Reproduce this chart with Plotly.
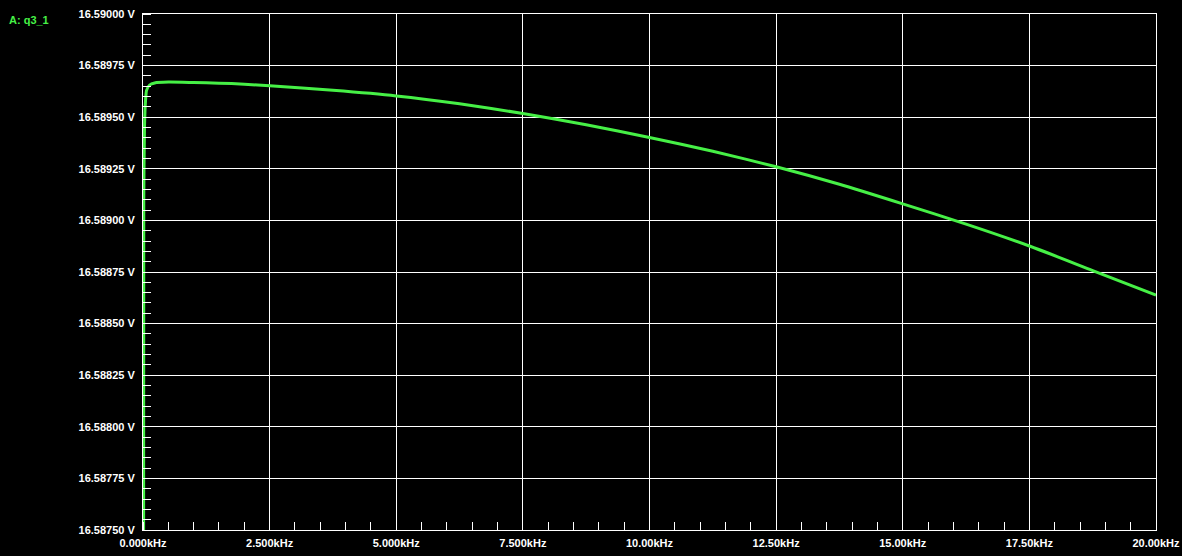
"""Frequency sweep of node q3_1 (simulator-style dark scope plot)."""

import plotly.graph_objects as go

# sweep frequency, kHz
FREQ_KHZ = [0.012, 0.015, 0.03, 0.05, 0.07, 0.13, 0.23, 0.5, 1.0, 1.5, 2.0, 2.5,
            3.75, 5.0, 6.25, 7.5, 8.75, 10.0, 11.25, 12.5, 13.75, 15.0, 16.25,
            17.5, 18.75, 20.0]
# output voltage, V
Q3_1 = [16.58750, 16.58910, 16.58946, 16.58958, 16.58963, 16.589656, 16.589666,
        16.589670, 16.589668, 16.589665, 16.589660, 16.589652, 16.589630,
        16.589603, 16.589565, 16.589518, 16.589463, 16.589402, 16.589335,
        16.589260, 16.589175, 16.589080, 16.588982, 16.588876, 16.588757,
        16.588638]

X_TICKS = [0, 2.5, 5, 7.5, 10, 12.5, 15, 17.5, 20]
X_LABELS = ["0.000kHz", "2.500kHz", "5.000kHz", "7.500kHz", "10.00kHz",
            "12.50kHz", "15.00kHz", "17.50kHz", "20.00kHz"]
Y_TICKS = [16.5875, 16.58775, 16.588, 16.58825, 16.5885, 16.58875, 16.589,
           16.58925, 16.5895, 16.58975, 16.59]
Y_LABELS = ["16.58750 V", "16.58775 V", "16.58800 V", "16.58825 V", "16.58850 V",
            "16.58875 V", "16.58900 V", "16.58925 V", "16.58950 V", "16.58975 V",
            "16.59000 V"]

GREEN = "#46f046"
FONT = "Liberation Sans, Arial, sans-serif"

fig = go.Figure()
fig.add_trace(go.Scatter(
    x=FREQ_KHZ, y=Q3_1, mode="lines", name="A: q3_1",
    line=dict(color=GREEN, width=3, shape="spline", smoothing=0.6), showlegend=False,
))

fig.update_layout(
    width=1182, height=556,
    margin=dict(l=143, r=26, t=14, b=26, autoexpand=False),
    paper_bgcolor="black", plot_bgcolor="black",
    font=dict(family=FONT, size=11, color="white", weight="bold"),
    xaxis=dict(
        range=[0, 20], tickmode="array", tickvals=X_TICKS, ticktext=X_LABELS,
        showgrid=True, gridcolor="white", gridwidth=1, zeroline=False,
        showline=True, linecolor="white", linewidth=1, mirror=True,
        ticks="", ticklabelstandoff=3, automargin=False,
        minor=dict(tickmode="linear", tick0=0, dtick=0.5, ticks="inside",
                   ticklen=8, tickcolor="white", showgrid=False),
    ),
    yaxis=dict(
        range=[16.5875, 16.59], tickmode="array", tickvals=Y_TICKS, ticktext=Y_LABELS,
        showgrid=True, gridcolor="white", gridwidth=1, zeroline=False,
        showline=True, linecolor="white", linewidth=1, mirror=True,
        ticks="", ticklabelstandoff=5, automargin=False,
        minor=dict(tickmode="linear", tick0=16.5875, dtick=0.00005, ticks="inside",
                   ticklen=8, tickcolor="white", showgrid=False),
    ),
    annotations=[dict(
        text="A: q3_1", xref="paper", yref="paper", x=-0.134, y=0.988,
        xanchor="left", yanchor="middle", showarrow=False,
        font=dict(family=FONT, size=11, color=GREEN),
    )],
)

# drop the browser's default page margin so the black canvas fills the window
fig.write_html(
    "out.html",
    config={"displayModeBar": False},
    post_script="document.body.style.margin='0';document.body.style.background='black';",
)
